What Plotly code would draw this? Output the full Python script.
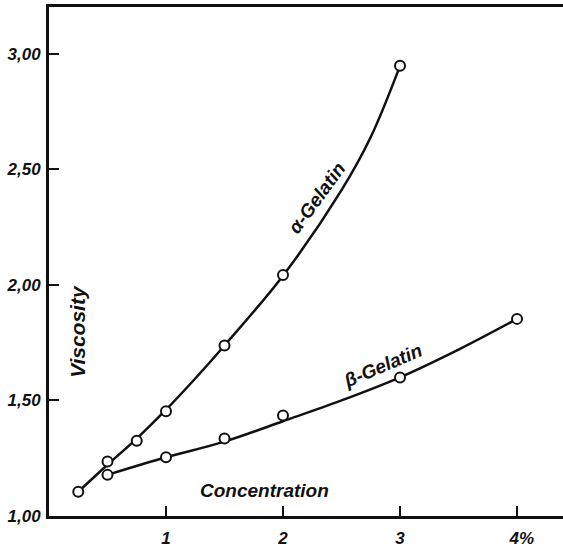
import plotly.graph_objects as go

# Measured viscosity vs. gelatin concentration (%)
alpha_conc = [0.25, 0.5, 0.75, 1.0, 1.5, 2.0, 3.0]
alpha_visc = [1.105, 1.236, 1.326, 1.453, 1.738, 2.043, 2.948]

beta_conc = [0.5, 1.0, 1.5, 2.0, 3.0, 4.0]
beta_visc = [1.178, 1.254, 1.335, 1.435, 1.599, 1.853]

# Hand-drawn smoothing curves through each series
alpha_curve_conc = [0.25, 0.5, 0.75, 1.0, 1.25, 1.5, 2.0, 2.5, 2.75, 3.0]
alpha_curve_visc = [1.105, 1.222, 1.335, 1.46, 1.595, 1.738, 2.04, 2.41, 2.64, 2.948]

beta_curve_conc = [0.5, 1.0, 1.5, 2.0, 2.5, 3.0, 3.5, 4.0]
beta_curve_visc = [1.178, 1.254, 1.322, 1.41, 1.50, 1.60, 1.72, 1.853]

x_ticks = [1, 2, 3, 4]
x_tick_text = ["1", "2", "3", "\u00a0\u00a04%"]
y_ticks = [1.0, 1.5, 2.0, 2.5, 3.0]
y_tick_text = ["1,00", "1,50", "2,00", "2,50", "3,00"]

FONT = "Liberation Sans"
ink = "#111111"

fig = go.Figure()

for cx, cy in [(alpha_curve_conc, alpha_curve_visc),
               (beta_curve_conc, beta_curve_visc)]:
    fig.add_trace(go.Scatter(
        x=cx, y=cy, mode="lines",
        line=dict(color=ink, width=2.5, shape="spline", smoothing=1.0),
        hoverinfo="skip", showlegend=False))

for xs, ys, name in [(alpha_conc, alpha_visc, "α-Gelatin"),
                     (beta_conc, beta_visc, "β-Gelatin")]:
    fig.add_trace(go.Scatter(
        x=xs, y=ys, mode="markers", name=name,
        marker=dict(symbol="circle", size=10, color="white",
                    line=dict(color=ink, width=2)),
        showlegend=False))

lab_font = dict(family=FONT, size=19, color=ink, weight="bold", style="italic")

fig.add_annotation(x=2.29, y=2.38, text="α-Gelatin", showarrow=False,
                   textangle=-54, font=lab_font)
fig.add_annotation(x=2.855, y=1.651, text="β-Gelatin", showarrow=False,
                   textangle=-23, font=lab_font)
fig.add_annotation(x=0.248, y=1.797, text="Viscosity", showarrow=False,
                   textangle=-90, font=dict(lab_font, size=21))
fig.add_annotation(x=1.846, y=1.112, text="Concentration", showarrow=False,
                   font=lab_font)

tick_font = dict(family=FONT, size=17, color=ink, weight="bold", style="italic")

fig.update_xaxes(
    range=[0, 4.393], showgrid=False, zeroline=False,
    showline=True, linecolor=ink, linewidth=3, mirror=True,
    ticks="inside", ticklen=10, tickwidth=2, tickcolor=ink,
    tickvals=x_ticks, ticktext=x_tick_text, tickfont=tick_font,
    ticklabelstandoff=5)
fig.update_yaxes(
    range=[1.0, 3.2026], showgrid=False, zeroline=False,
    showline=True, linecolor=ink, linewidth=3,
    ticks="inside", ticklen=10, tickwidth=2, tickcolor=ink,
    tickvals=y_ticks, ticktext=y_tick_text, tickfont=tick_font,
    ticklabelstandoff=2)

fig.update_layout(
    width=563, height=548,
    margin=dict(l=49, r=0, t=7, b=30),
    paper_bgcolor="white", plot_bgcolor="white",
)

fig.write_html("out.html")
